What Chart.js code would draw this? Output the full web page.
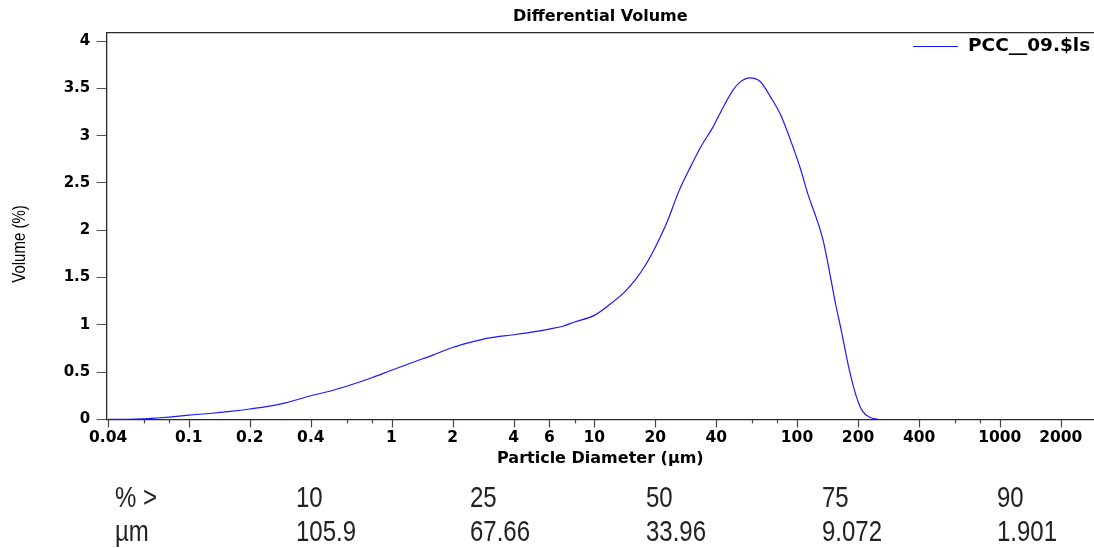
<!DOCTYPE html>
<html><head><meta charset="utf-8">
<script src="https://cdn.jsdelivr.net/npm/chart.js@4.4.0/dist/chart.umd.min.js"></script>
<style>
html,body{margin:0;padding:0;background:#fff;}
#wrap{position:relative;width:1094px;height:548px;overflow:hidden;background:#fff}
canvas{position:absolute;left:0;top:0}
.st{position:absolute;font-family:"Liberation Sans",Arial,sans-serif;font-size:30px;color:#222;transform:scaleX(0.8);transform-origin:0 50%;line-height:30px;white-space:nowrap}
</style></head><body>
<div id="wrap"><canvas id="c" width="1094" height="548"></canvas><div id="stats"></div></div>
<script>
const chartTitle = "Differential Volume";
const seriesLabel = "PCC__09.$ls";
const xAxisTitle = "Particle Diameter (µm)";
const yAxisTitle = "Volume (%)";

const diameters = [0.04,0.05,0.06,0.07,0.08,0.1,0.13,0.16,0.2,0.25,0.3,0.4,0.5,0.6,0.8,1.0,1.3,1.6,2.0,2.5,3.0,4.0,5.0,6.0,7.0,8.0,10,12,14,16,18,20,23,26,30,33.5,38.5,43,48,52,58.5,66,74,83,93,104,114,125,135,145,155,165,180,195,210,230,250];
const volumes   = [0,0,0.005,0.015,0.025,0.045,0.065,0.085,0.11,0.14,0.175,0.25,0.30,0.35,0.44,0.52,0.61,0.68,0.76,0.82,0.86,0.895,0.925,0.955,0.985,1.03,1.10,1.22,1.34,1.48,1.64,1.82,2.10,2.40,2.68,2.88,3.09,3.29,3.47,3.56,3.61,3.57,3.41,3.22,2.95,2.65,2.36,2.12,1.88,1.55,1.22,0.95,0.55,0.26,0.09,0.02,0.003];

const xTickValues = [0.04,0.06,0.08,0.1,0.2,0.4,0.6,0.8,1,2,4,6,8,10,20,40,60,80,100,200,400,600,800,1000,2000];
const xTickLabels = ["0.04","","","0.1","0.2","0.4","","","1","2","4","6","","10","20","40","","","100","200","400","","","1000","2000"];
const yTickValues = [0,0.5,1,1.5,2,2.5,3,3.5,4];
const yTickLabels = ["0","0.5","1","1.5","2","2.5","3","3.5","4"];

const statRowLabels = ["% >","µm"];
const statPercents = ["10","25","50","75","90"];
const statSizes = ["105.9","67.66","33.96","9.072","1.901"];

// stats table (HTML text)
(function(){
  const host = document.getElementById('stats');
  const colX = [115,296,470,646,822,997];
  const rowY = [497,531];
  const rows = [[statRowLabels[0]].concat(statPercents),[statRowLabels[1]].concat(statSizes)];
  rows.forEach((r,ri)=>r.forEach((t,ci)=>{
    const d=document.createElement('div');d.className='st';d.textContent=t;
    d.style.left=colX[ci]+'px';d.style.top=(rowY[ri]-15)+'px';host.appendChild(d);
  }));
})();

const frameColor = '#2a2a2a';
const extras = {
  id:'extras',
  afterDraw(chart){
    const {ctx, chartArea:a} = chart;
    const xs = chart.scales.x;
    ctx.save();
    ctx.strokeStyle = frameColor; ctx.lineWidth = 1.3;
    ctx.beginPath(); ctx.moveTo(a.left, a.top); ctx.lineTo(a.right, a.top); ctx.stroke();
    ctx.lineWidth = 1.2; ctx.strokeStyle = '#444';
    xs.ticks.forEach((t,i)=>{
      const px = Math.round(xs.getPixelForValue(t.value))+0.5;
      const len = xTickLabels[i] ? 8 : 4;
      ctx.beginPath(); ctx.moveTo(px, a.bottom); ctx.lineTo(px, a.bottom+len); ctx.stroke();
    });
    // y axis title (stretched like the reference)
    ctx.save();
    ctx.translate(20, 244); ctx.rotate(-Math.PI/2); ctx.scale(1, 1.2);
    ctx.fillStyle = '#000'; ctx.font = '15px "Liberation Sans"'; ctx.textAlign='center'; ctx.textBaseline='middle';
    ctx.fillText(yAxisTitle, 0, 0);
    ctx.restore();
    // legend
    const ds = chart.data.datasets[0];
    ctx.strokeStyle = ds.borderColor; ctx.lineWidth = 1.2;
    ctx.beginPath(); ctx.moveTo(913, 46.5); ctx.lineTo(958, 46.5); ctx.stroke();
    ctx.fillStyle = '#000'; ctx.font = 'bold 18.5px "DejaVu Sans"'; ctx.textBaseline='middle'; ctx.textAlign='left';
    ctx.fillText(ds.label, 968, 46);
    ctx.restore();
  }
};

new Chart(document.getElementById('c'), {
  type:'line',
  data:{datasets:[{
    label: seriesLabel,
    data: diameters.map((d,i)=>({x:d,y:volumes[i]})),
    borderColor:'rgb(25,25,255)', borderWidth:1.2, pointRadius:0, fill:false,
    cubicInterpolationMode:'monotone'
  }]},
  options:{
    responsive:false, devicePixelRatio:1, animation:false,
    layout:{padding:{left:0,right:0,top:0,bottom:73}},
    plugins:{
      legend:{display:false}, tooltip:{enabled:false},
      title:{display:true,text:chartTitle,fullSize:false,color:'#000',
        font:{family:'DejaVu Sans',size:16,weight:'bold',lineHeight:1.2},
        padding:{top:7.4,bottom:6.1}}
    },
    scales:{
      x:{type:'logarithmic', min:0.03937, max:2917,
        afterBuildTicks:(s)=>{s.ticks = xTickValues.map(v=>({value:v}));},
        afterFit:(s)=>{s.height = 55.6;},
        ticks:{autoSkip:false,maxRotation:0,minRotation:0,color:'#000',padding:9.7,
          font:{family:'DejaVu Sans',size:15.5,weight:'bold'},
          callback:(v,i)=>xTickLabels[i]},
        grid:{display:false,drawTicks:false},
        border:{display:true,color:frameColor,width:1.3},
        title:{display:true,text:xAxisTitle,color:'#000',
          font:{family:'DejaVu Sans',size:16,weight:'bold',lineHeight:1.2},
          padding:{top:0,bottom:6.4}}
      },
      y:{type:'linear', min:0, max:4.088,
        afterBuildTicks:(s)=>{s.ticks = yTickValues.map(v=>({value:v}));},
        afterFit:(s)=>{s.width = 106.7;},
        ticks:{color:'#000',padding:6.5,
          font:{family:'DejaVu Sans',size:15,weight:'bold'},
          callback:(v,i)=>yTickLabels[i]},
        grid:{display:true,drawOnChartArea:false,drawTicks:true,tickLength:10,tickColor:'#555',tickWidth:1},
        border:{display:true,color:frameColor,width:1.3},
        title:{display:false}
      }
    }
  },
  plugins:[extras]
});
</script>
</body></html>
